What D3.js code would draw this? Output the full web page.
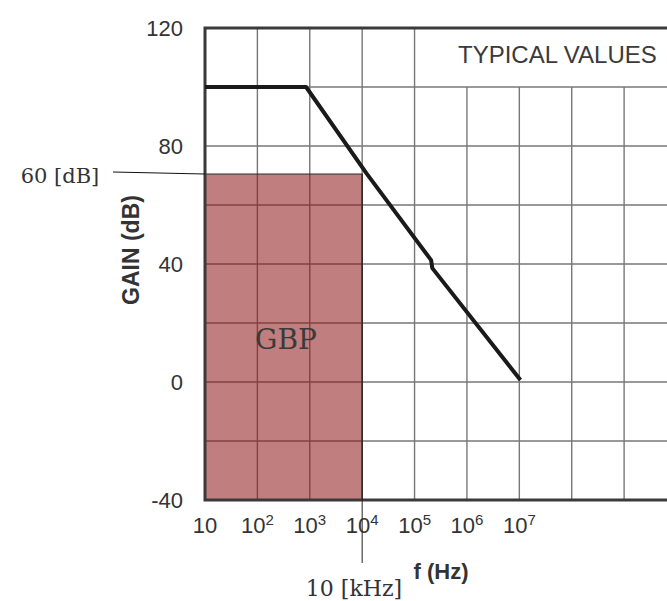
<!DOCTYPE html>
<html>
<head>
<meta charset="utf-8">
<script src="https://cdn.jsdelivr.net/npm/d3@7"></script>
<style>
    body { margin: 0; background: #fff; }
    svg { display: block; }
</style>
</head>
<body>
<div id="chart"></div>
<script>
// Chart values
let gainTicks = [120, 80, 40, 0, -40];
let gainGrid = [-40, -20, 0, 20, 40, 60, 80, 100, 120];
let freqDecades = [10, 1e2, 1e3, 1e4, 1e5, 1e6, 1e7, 1e8, 1e9];
let freqLabelExps = [1, 2, 3, 4, 5, 6, 7];

// open-loop gain curve
let curveFreq = [10, 850, 12000, 207000, 218000, 1.05e7];
let curveGain = [100, 100, 70.8, 41.3, 38.6, 0.7];

// gain-bandwidth product box
let gbpFreq = [10, 1e4];
let gbpGain = [-40, 70.5];

let width = 667;
let height = 601;

let svg = d3.select("#chart")
    .append("svg")
    .attr("width", width)
    .attr("height", height);

let x = d3.scaleLog().domain([10, 1e10]).range([205, 676.5]);
let y = d3.scaleLinear().domain([-40, 120]).range([500, 28]);

let gridColor = "#777";

// horizontal grid
svg.append("g")
    .selectAll("line")
    .data(gainGrid)
    .join("line")
    .attr("x1", x(10))
    .attr("x2", width)
    .attr("y1", (d) => y(d))
    .attr("y2", (d) => y(d))
    .attr("stroke", gridColor)
    .attr("stroke-width", 1.4);

// vertical grid (the label box in the corner has no lines above 100 dB)
svg.append("g")
    .selectAll("line")
    .data(freqDecades.slice(1))
    .join("line")
    .attr("x1", (d) => x(d))
    .attr("x2", (d) => x(d))
    .attr("y1", (d) => (d > 1e5 ? y(100) : y(120)))
    .attr("y2", y(-40))
    .attr("stroke", gridColor)
    .attr("stroke-width", 1.4);

// GBP box
svg.append("rect")
    .attr("x", x(gbpFreq[0]))
    .attr("y", y(gbpGain[1]))
    .attr("width", x(gbpFreq[1]) - x(gbpFreq[0]))
    .attr("height", y(gbpGain[0]) - y(gbpGain[1]))
    .attr("fill", "rgb(140, 20, 20)")
    .attr("fill-opacity", 0.55)
    .attr("stroke", "#2a2a2a")
    .attr("stroke-width", 1);

svg.append("text")
    .attr("x", 286)
    .attr("y", 349)
    .attr("text-anchor", "middle")
    .style("font-family", "'DejaVu Serif', serif")
    .style("font-size", "28px")
    .style("fill", "#3a3a3a")
    .text("GBP");

// frame
let frame = d3.path();
frame.moveTo(width + 10, y(120));
frame.lineTo(x(10), y(120));
frame.lineTo(x(10), y(-40));
frame.lineTo(width + 10, y(-40));
svg.append("path")
    .attr("d", frame.toString())
    .attr("fill", "none")
    .attr("stroke", "#3a3a3a")
    .attr("stroke-width", 3);

// gain curve
let line = d3.line()
    .x((d) => x(d[0]))
    .y((d) => y(d[1]));

svg.append("path")
    .datum(d3.zip(curveFreq, curveGain))
    .attr("d", line)
    .attr("fill", "none")
    .attr("stroke", "#1a1a1a")
    .attr("stroke-width", 4)
    .attr("stroke-linejoin", "round");

// y tick labels
svg.append("g")
    .selectAll("text")
    .data(gainTicks)
    .join("text")
    .attr("x", 183)
    .attr("y", (d) => y(d))
    .attr("dy", "0.36em")
    .attr("text-anchor", "end")
    .style("font-family", "'Liberation Sans', Arial, sans-serif")
    .style("font-size", "22px")
    .style("fill", "#333")
    .text((d) => d);

// x tick labels with superscript exponents
let xLabels = svg.append("g")
    .selectAll("text")
    .data(freqLabelExps)
    .join("text")
    .attr("x", (d) => x(Math.pow(10, d)))
    .attr("y", 533)
    .attr("text-anchor", "middle")
    .style("font-family", "'Liberation Sans', Arial, sans-serif")
    .style("font-size", "22px")
    .style("fill", "#333");

xLabels.append("tspan").text("10");
xLabels.filter((d) => d > 1)
    .append("tspan")
    .attr("dy", -8)
    .style("font-size", "15px")
    .text((d) => d);

// axis titles
svg.append("text")
    .attr("transform", "translate(139,250) rotate(-90)")
    .attr("text-anchor", "middle")
    .style("font-family", "'Liberation Sans', Arial, sans-serif")
    .style("font-size", "23px")
    .style("font-weight", "bold")
    .style("fill", "#333")
    .text("GAIN (dB)");

svg.append("text")
    .attr("x", 441)
    .attr("y", 579)
    .attr("text-anchor", "middle")
    .style("font-family", "'Liberation Sans', Arial, sans-serif")
    .style("font-size", "22px")
    .style("font-weight", "bold")
    .style("fill", "#333")
    .text("f (Hz)");

svg.append("text")
    .attr("x", 458)
    .attr("y", 63)
    .style("font-family", "'Liberation Sans', Arial, sans-serif")
    .style("font-size", "24px")
    .style("fill", "#3a3a3a")
    .text("TYPICAL VALUES");

// annotations
svg.append("line")
    .attr("x1", 113)
    .attr("y1", 172)
    .attr("x2", x(10))
    .attr("y2", y(gbpGain[1]))
    .attr("stroke", "#111")
    .attr("stroke-width", 1);

svg.append("text")
    .attr("x", 60)
    .attr("y", 183)
    .attr("text-anchor", "middle")
    .style("font-family", "'DejaVu Serif', serif")
    .style("font-size", "21px")
    .style("fill", "#333")
    .text("60 [dB]");

svg.append("line")
    .attr("x1", x(gbpFreq[1]))
    .attr("y1", y(gbpGain[1]))
    .attr("x2", x(gbpFreq[1]))
    .attr("y2", 563)
    .attr("stroke", "#222")
    .attr("stroke-width", 1);

svg.append("text")
    .attr("x", 354)
    .attr("y", 596)
    .attr("text-anchor", "middle")
    .style("font-family", "'DejaVu Serif', serif")
    .style("font-size", "22px")
    .style("fill", "#333")
    .text("10 [kHz]");
</script>
</body>
</html>
